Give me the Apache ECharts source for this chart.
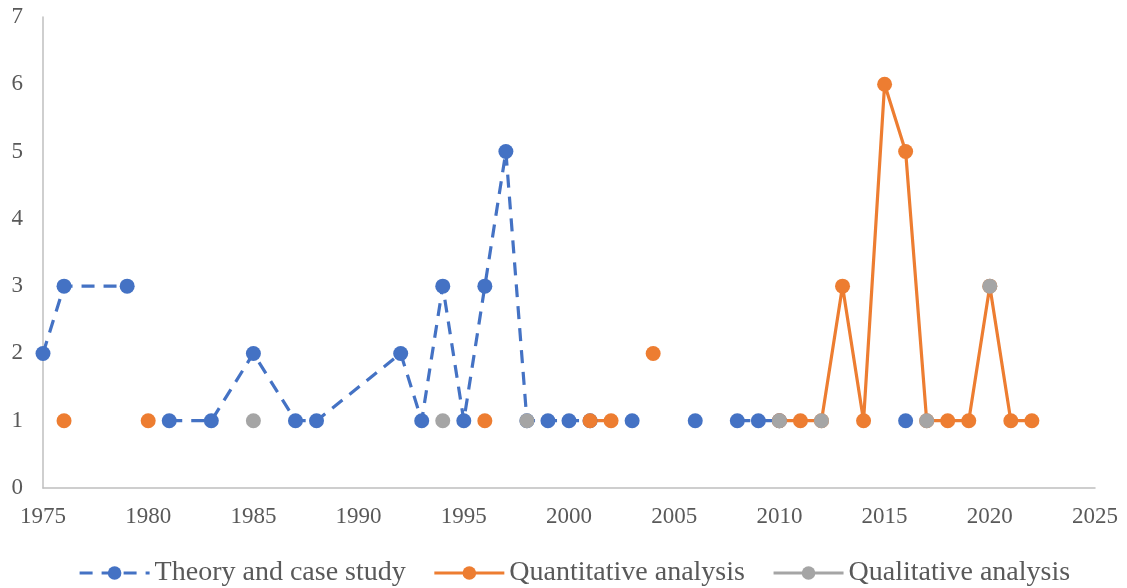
<!DOCTYPE html>
<html>
<head>
<meta charset="utf-8">
<script src="https://cdn.jsdelivr.net/npm/echarts@6/dist/echarts.min.js"></script>
<style>html,body{margin:0;padding:0;background:#fff}#c{width:1127px;height:588px}</style>
</head>
<body>
<div id="c"></div>
<script>
const years =  [1975,1976,1979,1980,1981,1983,1985,1987,1988,1992,1993,1994,1995,1996,1997,1998,1999,2000,2001,2002,2003,2004,2006,2007,2008,2009,2010,2011,2012,2013,2014,2015,2016,2017,2018,2019,2020,2021,2022];
const theory = [2,   3,   3,   null,1,   1,   2,   1,   1,   2,   1,   3,   1,   3,   5,   1,   1,   1,   1,   null,1,   null,1,   null,1,   1,   1,   null,null,null,null,null,1,   null,null,null,null,null,null];
const quant =  [null,1,   null,1,   null,null,null,null,null,null,null,null,null,1,   null,null,null,null,1,   1,   null,2,   null,null,null,null,1,   1,   1,   3,   1,   6,   5,   1,   1,   1,   3,   1,   1];
const qual =   [null,null,null,null,null,null,1,   null,null,null,null,1,   null,null,null,1,   null,null,null,null,null,null,null,null,null,null,1,   null,1,   null,null,null,null,1,   null,null,3,   null,null];
const seriesNames = ['Theory and case study','Quantitative analysis','Qualitative analysis'];

function pairs(arr){ return years.map((y,i)=>[y, arr[i]==null ? '-' : arr[i]]); }

const font = 'Liberation Serif';
const chart = echarts.init(document.getElementById('c'));
chart.setOption({
  animation:false,
  grid:{left:43,right:32,top:17,bottom:100,containLabel:false},
  xAxis:{type:'value',min:1975,max:2025,interval:5,
    axisLine:{show:true,lineStyle:{color:'#bfbfbf',width:1.5}},
    axisTick:{show:false},splitLine:{show:false},
    axisLabel:{color:'#595959',fontFamily:font,fontSize:23,margin:17,formatter:v=>String(v)}},
  yAxis:{type:'value',min:0,max:7,interval:1,
    axisLine:{show:true,lineStyle:{color:'#bfbfbf',width:1.5}},
    axisTick:{show:false},splitLine:{show:false},
    axisLabel:{color:'#595959',fontFamily:font,fontSize:23,margin:20}},
  legend:{top:554,left:73,itemWidth:70,itemHeight:17,itemGap:27,
    lineStyle:{width:3.2},
    textStyle:{color:'#595959',fontFamily:font,fontSize:28}},
  series:[
    {name:seriesNames[0],type:'line',data:pairs(theory),symbol:'circle',symbolSize:15,
      connectNulls:false,
      lineStyle:{color:'#4472C4',width:3.2,type:[13,9]},
      itemStyle:{color:'#4472C4'}},
    {name:seriesNames[1],type:'line',data:pairs(quant),symbol:'circle',symbolSize:15,
      connectNulls:false,
      lineStyle:{color:'#ED7D31',width:3.2},
      itemStyle:{color:'#ED7D31'}},
    {name:seriesNames[2],type:'line',data:pairs(qual),symbol:'circle',symbolSize:15,
      connectNulls:false,
      lineStyle:{color:'#A5A5A5',width:3.2},
      itemStyle:{color:'#A5A5A5'}}
  ]
});
</script>
</body>
</html>
